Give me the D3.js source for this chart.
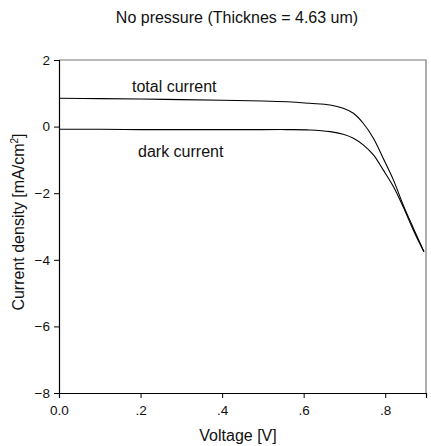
<!DOCTYPE html>
<html>
<head>
<meta charset="utf-8">
<script src="https://cdn.jsdelivr.net/npm/d3@7.9.0/dist/d3.min.js"></script>
<style>
  body { margin: 0; background: #fff; }
  text { font-family: "Liberation Sans", Arial, sans-serif; fill: #111; }
</style>
</head>
<body>
<div id="chart"></div>
<script>
// voltage (V) and current density (mA/cm^2)
const voltage = [0.00, 0.10, 0.20, 0.30, 0.40, 0.50, 0.56, 0.615, 0.665, 0.697, 0.722, 0.746, 0.771, 0.795, 0.820, 0.844, 0.869, 0.895];
const totalCurrent = [0.85, 0.84, 0.83, 0.81, 0.79, 0.77, 0.745, 0.70, 0.65, 0.55, 0.40, 0.10, -0.35, -0.95, -1.60, -2.35, -3.05, -3.76];
const darkCurrent = [-0.08, -0.08, -0.09, -0.09, -0.09, -0.09, -0.09, -0.10, -0.15, -0.23, -0.35, -0.55, -0.85, -1.30, -1.80, -2.41, -3.11, -3.76];

const xTicks = [0, 0.2, 0.4, 0.6, 0.8];
const xTickLabels = ['0.0', '.2', '.4', '.6', '.8'];
const yTicks = [2, 0, -2, -4, -6, -8];

const width = 431;
const height = 446;
const margin = { top: 60, right: 5, bottom: 53, left: 59 };

const svg = d3.select('#chart')
  .append('svg')
  .attr('width', width)
  .attr('height', height);

const xScale = d3.scaleLinear()
  .domain([0, 0.9])
  .range([margin.left, width - margin.right]);

const yScale = d3.scaleLinear()
  .domain([-8, 2])
  .range([height - margin.bottom, margin.top]);

// frame on top and right
svg.append('path')
  .attr('d', `M${xScale(0)},${yScale(2)}H${xScale(0.9)}V${yScale(-8)}`)
  .attr('fill', 'none')
  .attr('stroke', '#777')
  .attr('stroke-width', 1.2);

const xAxis = svg.append('g')
  .attr('transform', `translate(0, ${yScale(-8)})`)
  .call(d3.axisBottom(xScale)
    .tickValues(xTicks)
    .tickSize(5)
    .tickPadding(7)
    .tickFormat((d, i) => xTickLabels[i]));

const yAxis = svg.append('g')
  .attr('transform', `translate(${xScale(0)}, 0)`)
  .call(d3.axisLeft(yScale)
    .tickValues(yTicks)
    .tickSize(5)
    .tickPadding(4)
    .tickFormat(d3.format('d')));

for (const ax of [xAxis, yAxis]) {
  ax.select('.domain').attr('stroke', '#000').attr('stroke-width', 1.2);
  ax.selectAll('.tick line').attr('stroke', '#000');
  ax.selectAll('.tick text')
    .style('font-family', '"Liberation Sans", Arial, sans-serif')
    .style('font-size', '13.5px')
    .attr('fill', '#111');
}

const line = d3.line()
  .x((d) => xScale(d[0]))
  .y((d) => yScale(d[1]))
  .curve(d3.curveCatmullRom.alpha(0.5));

for (const series of [totalCurrent, darkCurrent]) {
  svg.append('path')
    .datum(voltage.map((v, i) => [v, series[i]]))
    .attr('fill', 'none')
    .attr('stroke', '#000')
    .attr('stroke-width', 1.1)
    .attr('d', line);
}

svg.append('text')
  .attr('x', 132)
  .attr('y', 92)
  .style('font-size', '16px')
  .text('total current');

svg.append('text')
  .attr('x', 138)
  .attr('y', 157)
  .style('font-size', '16px')
  .text('dark current');

svg.append('text')
  .attr('x', 237)
  .attr('y', 23)
  .attr('text-anchor', 'middle')
  .style('font-size', '16px')
  .text('No pressure (Thicknes = 4.63 um)');

svg.append('text')
  .attr('x', 238)
  .attr('y', 441)
  .attr('text-anchor', 'middle')
  .style('font-size', '16px')
  .text('Voltage [V]');

const yLabel = svg.append('text')
  .attr('transform', `translate(24, 222) rotate(-90)`)
  .attr('text-anchor', 'middle')
  .style('font-size', '16px');
yLabel.append('tspan').text('Current density [mA/cm');
yLabel.append('tspan').attr('dy', -6).style('font-size', '10px').text('2');
yLabel.append('tspan').attr('dy', 6).text(']');
</script>
</body>
</html>
